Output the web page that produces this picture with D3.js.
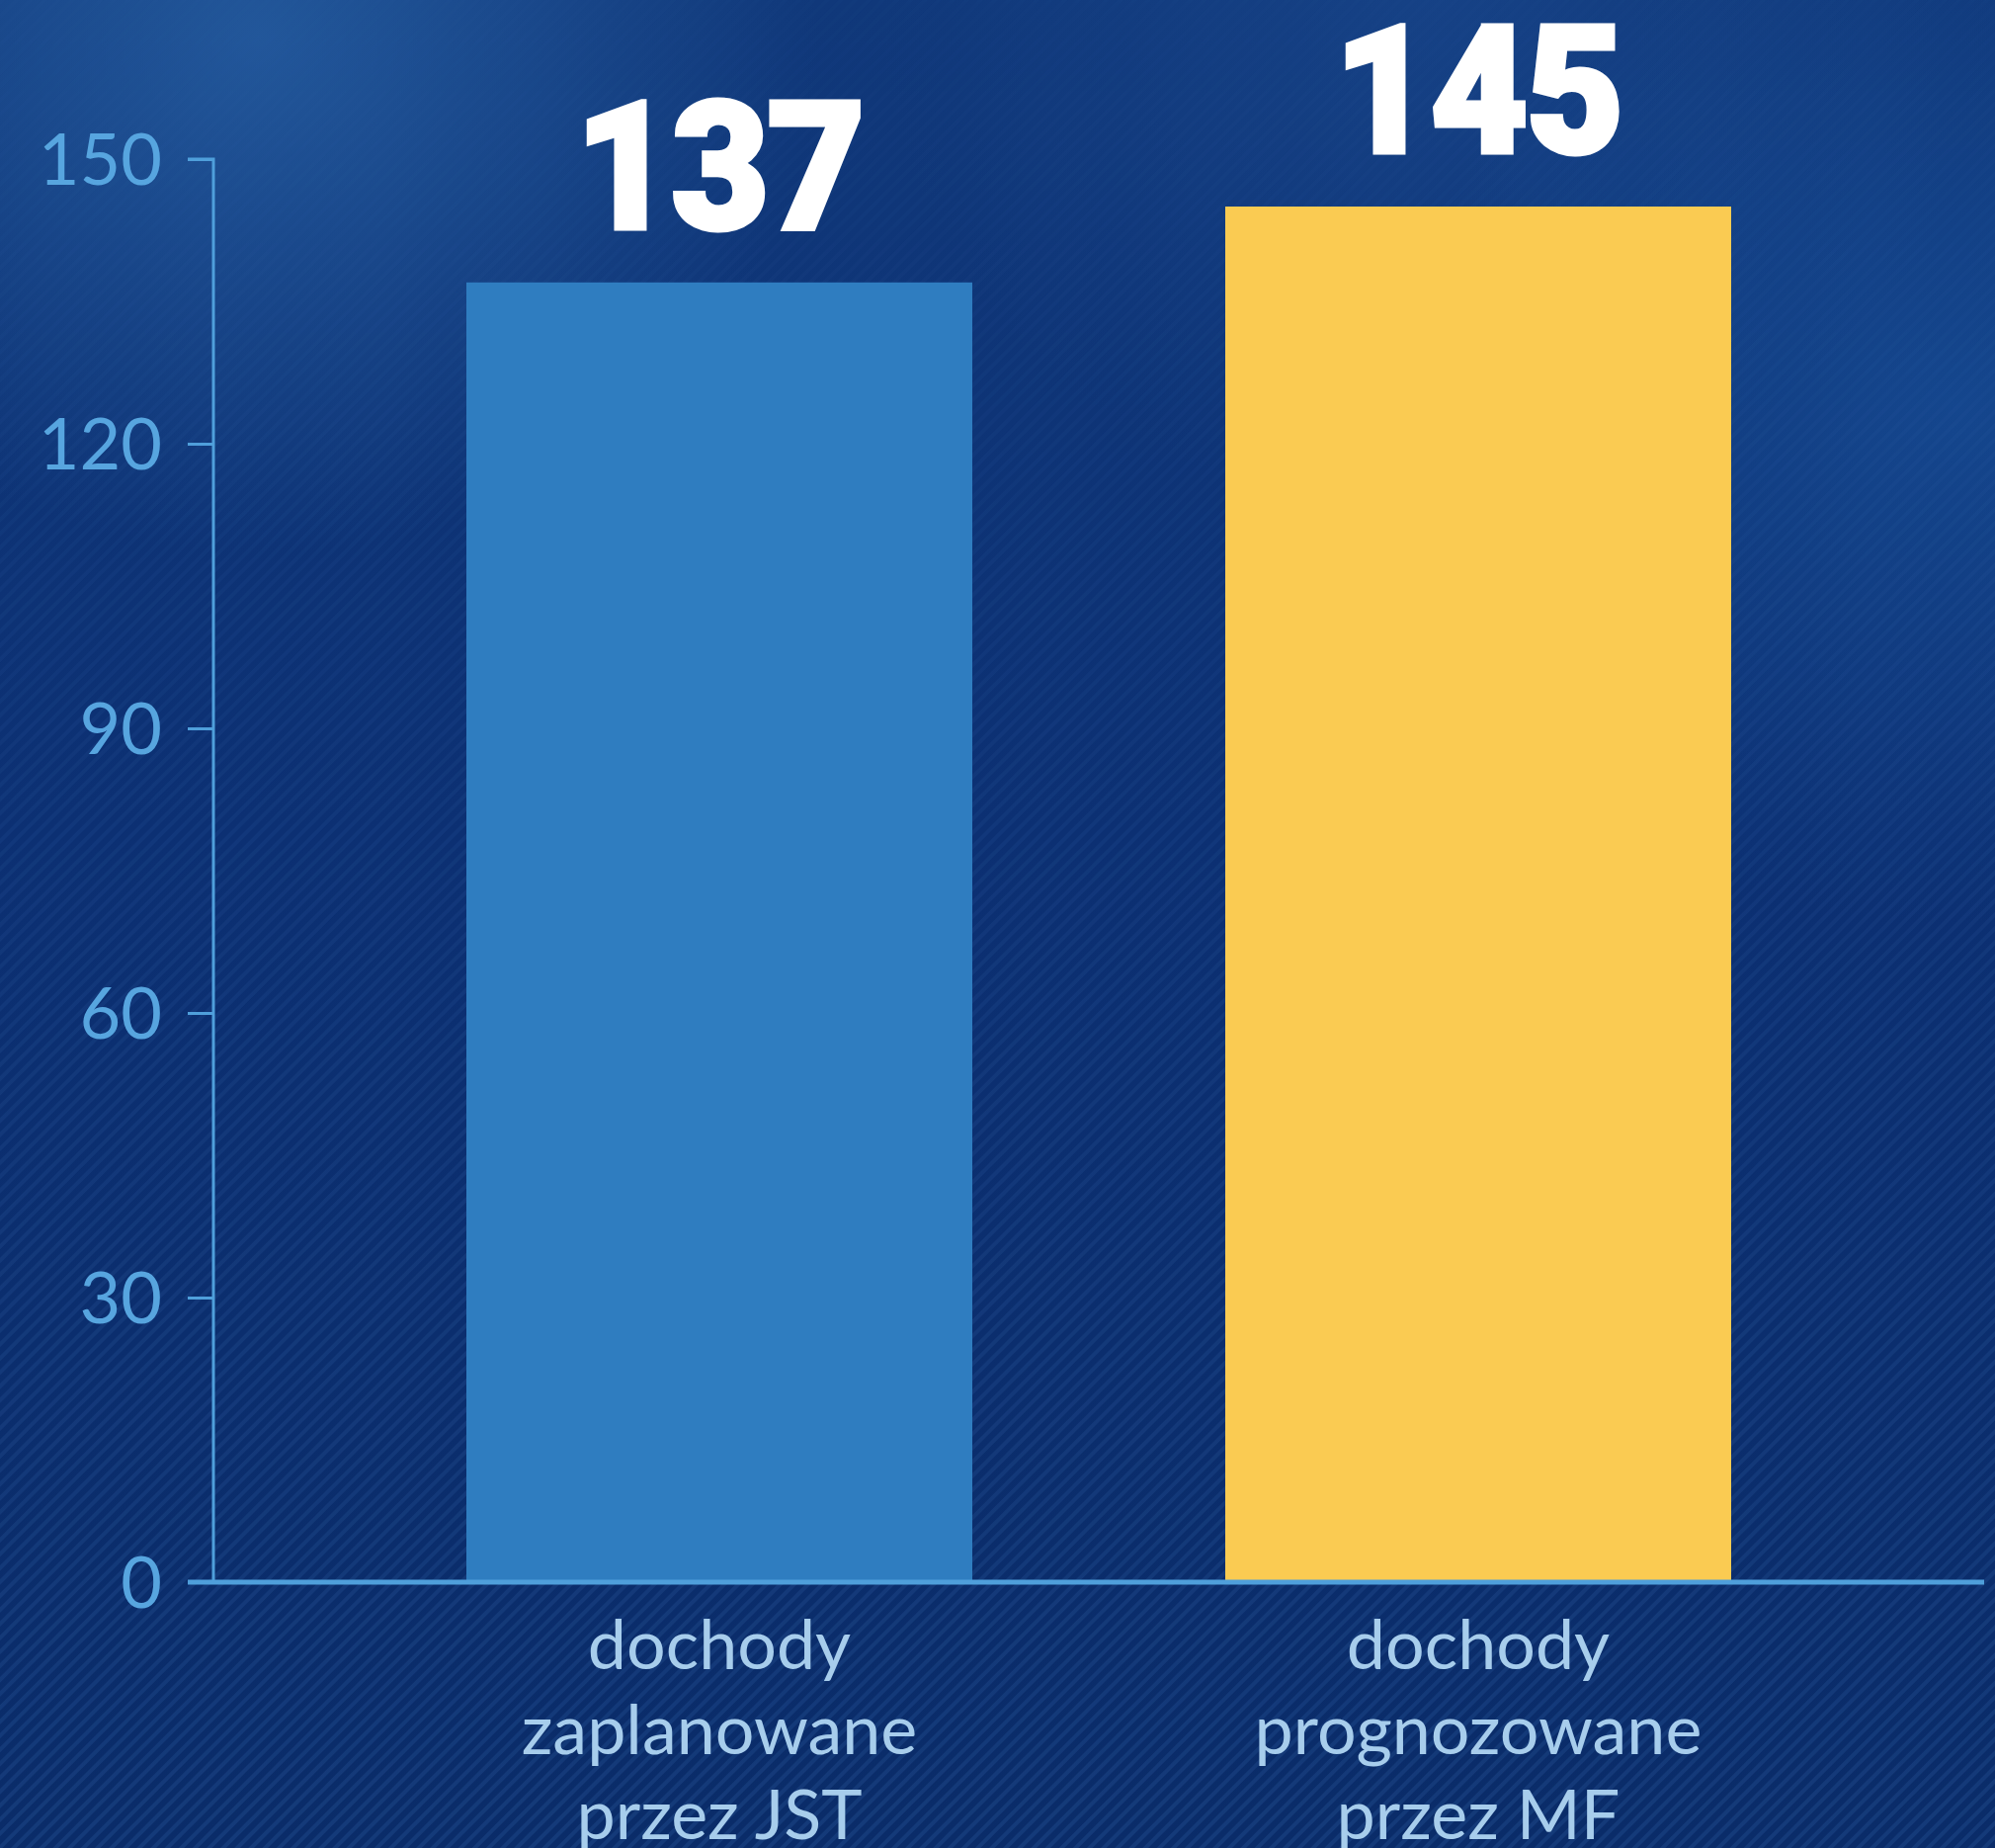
<!DOCTYPE html>
<html>
<head>
<meta charset="utf-8">
<script src="https://cdn.jsdelivr.net/npm/d3@7"></script>
<style>
  html, body { margin: 0; padding: 0; background: #0b2f70; }
  svg { display: block; }
</style>
</head>
<body>
<svg id="chart" width="2019" height="1870"></svg>
<script>
// ---- data ----
const categories = [
  ["dochody", "zaplanowane", "przez JST"],
  ["dochody", "prognozowane", "przez MF"]
];
const categoryKeys = ["JST", "MF"];
const values = [137, 145];
const barColors = ["#2f7dc0", "#facb52"];
const yTicks = [0, 30, 60, 90, 120, 150];

// ---- setup ----
const W = 2019, H = 1870;
const svg = d3.select("#chart");
const defs = svg.append("defs");

// background gradients
const lg = defs.append("linearGradient").attr("id", "bgLin")
  .attr("x1", 0).attr("y1", 0).attr("x2", 0).attr("y2", 1);
lg.append("stop").attr("offset", 0).attr("stop-color", "#10387a");
lg.append("stop").attr("offset", 0.45).attr("stop-color", "#0c3073");
lg.append("stop").attr("offset", 1).attr("stop-color", "#0a2c69");

const rg1 = defs.append("radialGradient").attr("id", "glowTL")
  .attr("cx", 0.13).attr("cy", 0.02).attr("r", 0.28);
rg1.append("stop").attr("offset", 0).attr("stop-color", "#2a64a8").attr("stop-opacity", 0.7);
rg1.append("stop").attr("offset", 1).attr("stop-color", "#2a64a8").attr("stop-opacity", 0);

const rg2 = defs.append("radialGradient").attr("id", "glowR")
  .attr("cx", 0.98).attr("cy", 0.22).attr("r", 0.28);
rg2.append("stop").attr("offset", 0).attr("stop-color", "#1a55a0").attr("stop-opacity", 0.55);
rg2.append("stop").attr("offset", 1).attr("stop-color", "#1a55a0").attr("stop-opacity", 0);

const rg3 = defs.append("radialGradient").attr("id", "glowTR")
  .attr("cx", 0.72).attr("cy", 0.0).attr("r", 0.28);
rg3.append("stop").attr("offset", 0).attr("stop-color", "#1d4d94").attr("stop-opacity", 0.45);
rg3.append("stop").attr("offset", 1).attr("stop-color", "#1d4d94").attr("stop-opacity", 0);

const pat = defs.append("pattern").attr("id", "stripes")
  .attr("width", 10).attr("height", 10)
  .attr("patternUnits", "userSpaceOnUse")
  .attr("patternTransform", "rotate(45)");
pat.append("rect").attr("width", 4).attr("height", 10).attr("fill", "#3a6bb0").attr("opacity", 0.22);

const fadeMask = defs.append("linearGradient").attr("id", "fadeG")
  .attr("x1", 0).attr("y1", 0).attr("x2", 0).attr("y2", 1);
fadeMask.append("stop").attr("offset", 0).attr("stop-color", "#fff").attr("stop-opacity", 0.15);
fadeMask.append("stop").attr("offset", 0.5).attr("stop-color", "#fff").attr("stop-opacity", 0.6);
fadeMask.append("stop").attr("offset", 1).attr("stop-color", "#fff").attr("stop-opacity", 1);
defs.append("mask").attr("id", "stripeMask")
  .append("rect").attr("width", W).attr("height", H).attr("fill", "url(#fadeG)");

svg.append("rect").attr("width", W).attr("height", H).attr("fill", "url(#bgLin)");
svg.append("rect").attr("width", W).attr("height", H).attr("fill", "url(#glowTL)");
svg.append("rect").attr("width", W).attr("height", H).attr("fill", "url(#glowTR)");
svg.append("rect").attr("width", W).attr("height", H).attr("fill", "url(#glowR)");
svg.append("rect").attr("width", W).attr("height", H).attr("fill", "url(#stripes)").attr("mask", "url(#stripeMask)");

// ---- scales ----
const x0 = 216, x1 = 2008, yTop = 161, yBase = 1601;
const x = d3.scaleBand().domain(categoryKeys).range([x0, x1])
  .paddingInner(1/3).paddingOuter(1/3);
const y = d3.scaleLinear().domain([0, 150]).range([yBase, yTop]);

const axisColor = "#4f9fdb";

// ---- y axis ----
const yAxis = d3.axisLeft(y).tickValues(yTicks).tickSize(26).tickPadding(26);
const gy = svg.append("g").attr("transform", `translate(${x0},0)`).call(yAxis);
gy.select(".domain").attr("stroke", axisColor).attr("stroke-width", 3)
  .attr("d", `M-26,${yTop}H0V${yBase}`);
gy.selectAll(".tick line").attr("stroke", axisColor).attr("stroke-width", 3);
gy.selectAll(".tick text")
  .attr("fill", "#57a5df")
  .attr("font-family", "Lato, 'Open Sans', sans-serif")
  .attr("font-size", 72)
  .attr("dy", "0.36em");

// ---- bars ----
svg.append("g").selectAll("rect").data(values).join("rect")
  .attr("x", (d, i) => x(categoryKeys[i]))
  .attr("width", x.bandwidth())
  .attr("y", d => y(d))
  .attr("height", d => y(0) - y(d))
  .attr("fill", (d, i) => barColors[i]);

// ---- baseline ----
svg.append("line")
  .attr("x1", x0 - 26).attr("x2", x1)
  .attr("y1", yBase).attr("y2", yBase)
  .attr("stroke", axisColor).attr("stroke-width", 5);

// ---- value labels ----
svg.append("g").selectAll("text").data(values).join("text")
  .attr("text-anchor", "middle")
  .attr("transform", (d, i) => `translate(${x(categoryKeys[i]) + x.bandwidth() / 2},${y(d) - 55}) scale(0.95,1)`)
  .attr("fill", "#ffffff")
  .attr("stroke", "#ffffff")
  .attr("stroke-width", 5)
  .attr("stroke-linejoin", "miter")
  .attr("font-family", "Roboto, Lato, sans-serif")
  .attr("font-weight", 900)
  .attr("font-size", 180)
  .attr("letter-spacing", -2)
  .text(d => d);

// ---- category labels ----
const cg = svg.append("g").selectAll("text").data(categories).join("text")
  .attr("text-anchor", "middle")
  .attr("fill", "#a7cdec")
  .attr("font-family", "Lato, 'Open Sans', sans-serif")
  .attr("font-size", 70)
  .attr("x", (d, i) => x(categoryKeys[i]) + x.bandwidth() / 2)
  .attr("y", 1689);
cg.selectAll("tspan").data(d => d).join("tspan")
  .attr("x", function () { return d3.select(this.parentNode).attr("x"); })
  .attr("dy", (d, j) => j === 0 ? 0 : 86)
  .text(d => d);
</script>
</body>
</html>
